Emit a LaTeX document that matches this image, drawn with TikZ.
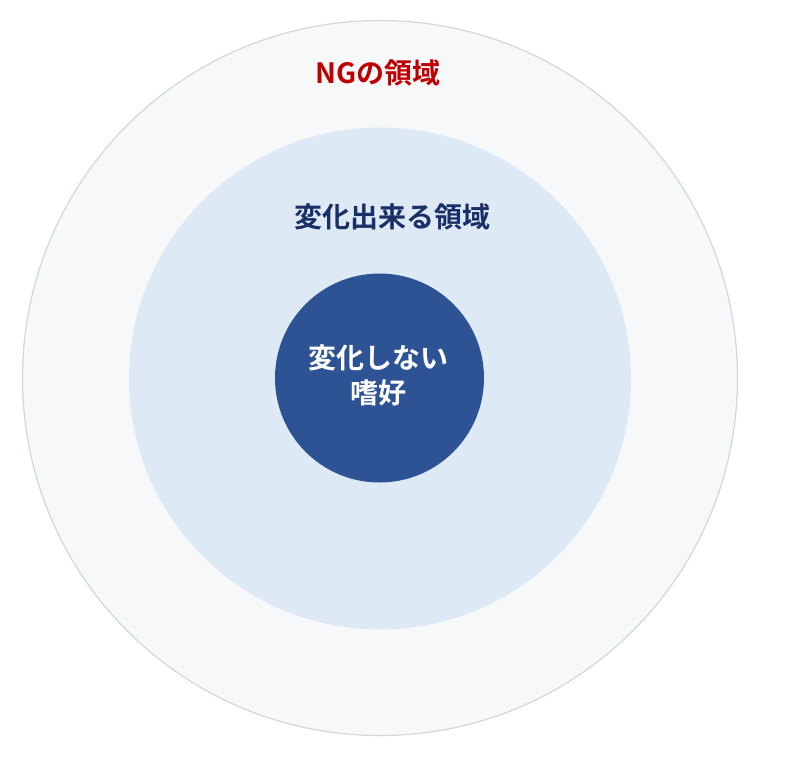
\documentclass[tikz,border=0pt]{standalone}
\usepackage{fontspec}
\newfontfamily\cjk{Noto Sans CJK JP}[BoldFont={* Bold}]
\definecolor{outerfill}{HTML}{F7F8F9}
\definecolor{outerline}{HTML}{D4D6D8}
\definecolor{midfill}{HTML}{DDEAF6}
\definecolor{innerfill}{HTML}{2D5395}
\definecolor{ngred}{HTML}{C00000}
\definecolor{navy}{HTML}{1A2F66}
\tikzset{
  ring/.style={circle, inner sep=0pt, minimum size=#1},
  lbl/.style={font=\cjk\bfseries\fontsize{28pt}{35pt}\selectfont, align=center, inner sep=0pt},
}
\begin{document}
\begin{tikzpicture}[x=1pt,y=-1pt]
\useasboundingbox (0,0) rectangle (800,764);
\fill[white] (0,0) rectangle (800,764);
\node[ring=715pt, fill=outerfill, draw=outerline, line width=1.2pt] (outer) at (380,378) {};
\node[ring=502pt, fill=midfill] (mid) at (380,378.5) {};
\node[ring=209pt, fill=innerfill] (inner) at (379.5,378) {};
\node[lbl, text=ngred] (ng) at (378,73) {NGの領域};
\node[lbl, text=navy] (can) at (392.5,217) {変化出来る領域};
\node[lbl, text=white] (cannot) at (378,375) {変化しない\\嗜好};
\end{tikzpicture}
\end{document}
